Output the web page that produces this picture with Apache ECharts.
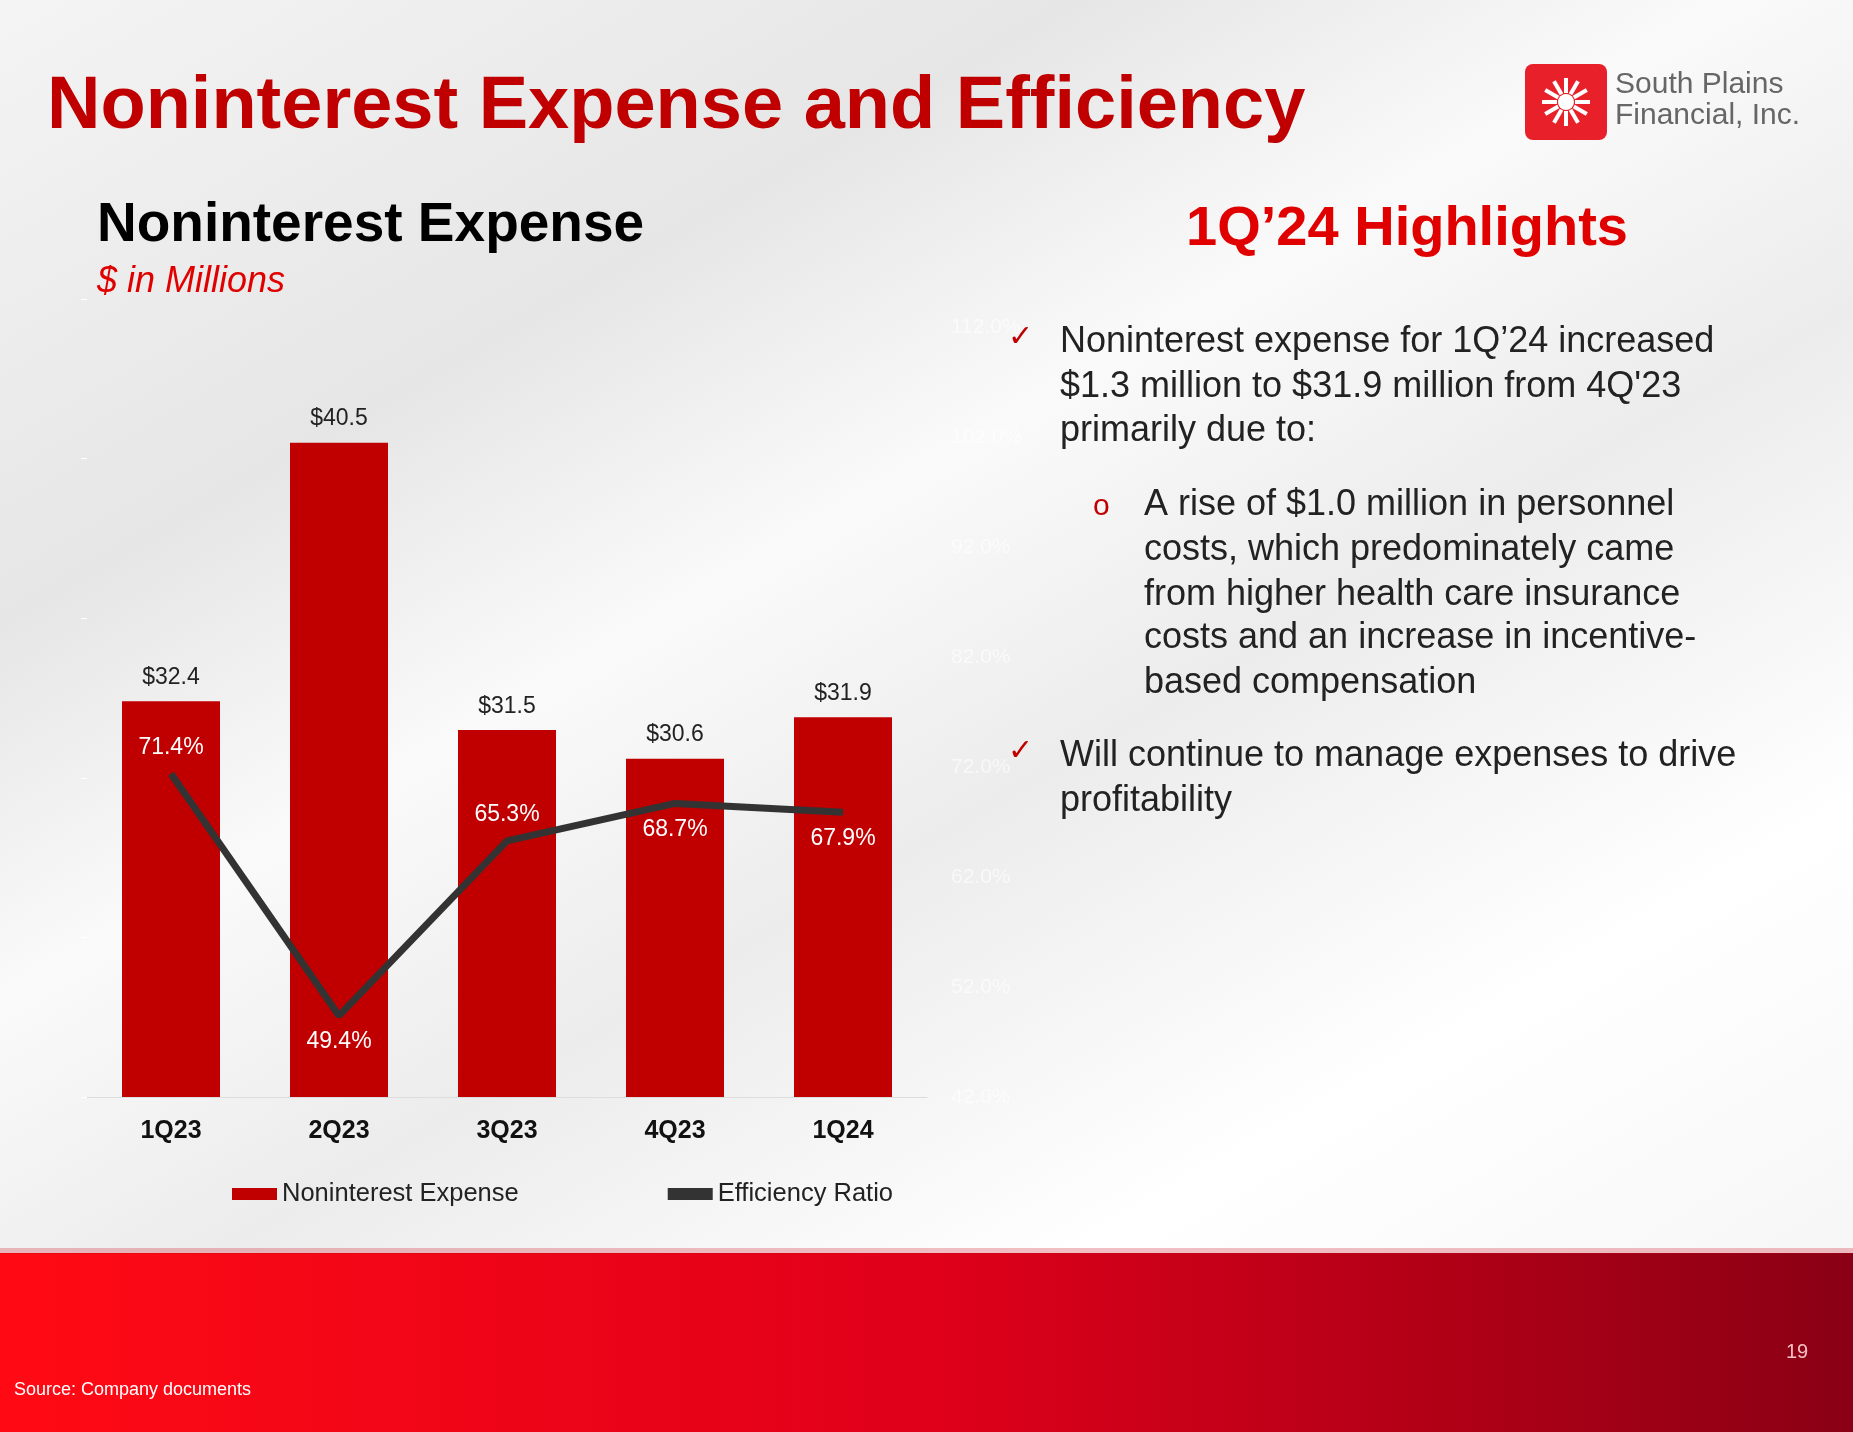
<!DOCTYPE html>
<html><head><meta charset="utf-8">
<script src="https://cdn.jsdelivr.net/npm/echarts@6/dist/echarts.min.js"></script>
<style>
html,body{margin:0;padding:0;width:1853px;height:1432px;overflow:hidden;
background:linear-gradient(150deg,#f4f4f4 0%,#e6e6e6 25%,#fafafa 40%,#ececec 55%,#ffffff 75%,#f3f3f3 100%);}
#c{width:1853px;height:1432px;}
</style></head><body><div id="c"></div>
<script>
const categories=['1Q23','2Q23','3Q23','4Q23','1Q24'];
const expense=[32.4,40.5,31.5,30.6,31.9];
const efficiency=[71.4,49.4,65.3,68.7,67.9];
const lineLabelPos=['top','bottom','top','bottom','bottom'];
const F='Arial, "Liberation Sans", sans-serif';
const chart=echarts.init(document.getElementById('c'));
const txt=(x,y,t,s,c,w,extra)=>Object.assign({type:'text',left:x,top:y,style:Object.assign({text:t,font:(w||'normal')+' '+s+'px '+F,fill:c},extra||{})});
const bullets=[];
const tl=(x,y,t)=>bullets.push({type:'text',x:x,y:y,style:{text:t,font:'36px '+F,fill:'#222',textVerticalAlign:'middle'}});
bullets.push({type:'text',x:1008,y:338,style:{text:'✓',font:'30px '+F,fill:'#c00000',textVerticalAlign:'middle'}});
tl(1060,342,'Noninterest expense for 1Q’24 increased');
tl(1060,387,'$1.3 million to $31.9 million from 4Q\'23');
tl(1060,431,'primarily due to:');
bullets.push({type:'text',x:1093,y:507,style:{text:'o',font:'30px '+F,fill:'#c00000',textVerticalAlign:'middle'}});
tl(1144,505,'A rise of $1.0 million in personnel');
tl(1144,550,'costs, which predominately came');
tl(1144,595,'from higher health care insurance');
tl(1144,638,'costs and an increase in incentive-');
tl(1144,683,'based compensation');
bullets.push({type:'text',x:1008,y:752,style:{text:'✓',font:'30px '+F,fill:'#c00000',textVerticalAlign:'middle'}});
tl(1060,756,'Will continue to manage expenses to drive');
tl(1060,801,'profitability');
const rays=[];
for(let i=0;i<12;i++){const a=Math.PI*(i/12)*2;rays.push({type:'line',shape:{x1:1566+Math.cos(a)*9,y1:102+Math.sin(a)*9,x2:1566+Math.cos(a)*24,y2:102+Math.sin(a)*24},style:{stroke:'#fff',lineWidth:4}});}
chart.setOption({
 animation:false,
 graphic:[
  {type:'rect',shape:{x:0,y:1253,width:1853,height:179},style:{fill:new echarts.graphic.LinearGradient(0,0,1,0,[{offset:0,color:'#ff0a14'},{offset:0.5,color:'#e0001a'},{offset:1,color:'#8a0014'}])}},
  {type:'rect',shape:{x:0,y:1248,width:1853,height:6},style:{fill:'rgba(200,0,20,0.25)'}},
  txt(14,1381,'Source: Company documents',18,'#fff'),
  txt(1786,1342,'19',20,'#f4c0c4'),
  txt(47,71,'Noninterest Expense and Efficiency',74,'#c00000','bold'),
  txt(97,198,'Noninterest Expense',55,'#000','bold'),
  txt(97,264,'$ in Millions',36,'#e00000','italic'),
  {type:'text',x:1407,y:230,style:{text:'1Q’24 Highlights',font:'bold 56px '+F,fill:'#e00000',textAlign:'center',textVerticalAlign:'middle'}},
  {type:'rect',shape:{x:1525,y:64,width:82,height:76,r:8},style:{fill:'#e8202a'}},
  {type:'circle',shape:{cx:1566,cy:102,r:8},style:{fill:'#fff'}},
  ...rays,
  txt(1615,70,'South Plains',30,'#666'),
  txt(1615,101,'Financial, Inc.',30,'#666'),
  ...bullets
 ],
 legend:{bottom:1432-1212,left:227,itemGap:149,itemWidth:45,itemHeight:12,
   textStyle:{fontSize:25.5,fontFamily:F,color:'#222'},
   data:[{name:'Noninterest Expense',icon:'rect'},{name:'Efficiency Ratio',icon:'rect'}]},
 grid:{left:87,top:299,width:840,height:798},
 xAxis:{type:'category',data:categories,axisLine:{lineStyle:{color:'#ddd'}},axisTick:{show:false},
   axisLabel:{fontSize:25,fontWeight:'bold',color:'#111',fontFamily:F,margin:22}},
 yAxis:[{type:'value',min:20,max:45,interval:5,splitLine:{show:false},axisLine:{show:false},
   axisTick:{show:true,length:6,lineStyle:{color:'#fff'}},axisLabel:{show:false}},
  {type:'value',min:42,max:114.58,interval:10,splitLine:{show:false},axisLine:{show:false},axisTick:{show:false},
   axisLabel:{showMaxLabel:false,color:'rgba(255,255,255,0.6)',fontSize:21,fontFamily:F,margin:24,formatter:v=>v.toFixed(1)+'%'}}],
 series:[
  {name:'Noninterest Expense',type:'bar',data:expense,barWidth:98,itemStyle:{color:'#c00000'},
   label:{show:true,position:'top',distance:12,formatter:p=>'$'+p.value.toFixed(1),fontSize:23,color:'#222',fontFamily:F}},
  {name:'Efficiency Ratio',type:'line',yAxisIndex:1,symbol:'circle',symbolSize:1,showSymbol:true,lineStyle:{color:'#333',width:7},itemStyle:{color:'#333'},
   data:efficiency.map((v,i)=>({value:v,label:{show:true,position:lineLabelPos[i]}})),
   label:{show:true,distance:14,formatter:p=>p.value.toFixed(1)+'%',fontSize:23,color:'#fff',fontFamily:F}}
 ]
});
</script></body></html>
